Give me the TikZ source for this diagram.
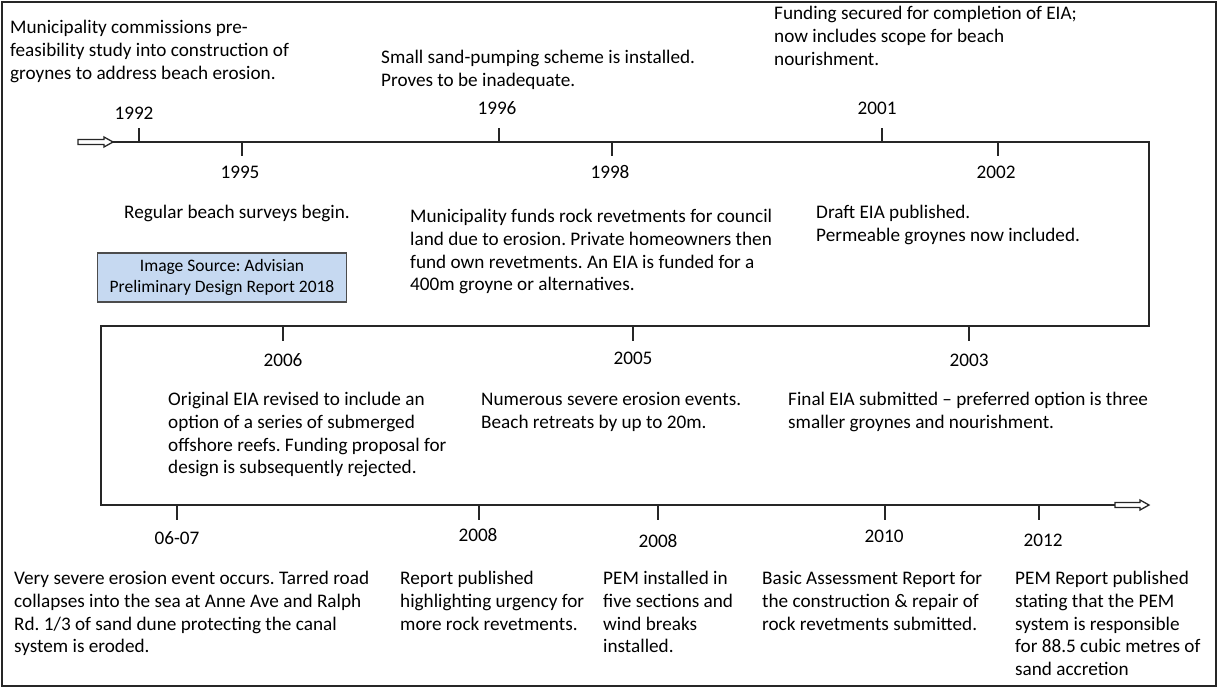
\documentclass[tikz,border=0pt]{standalone}
\usepackage{fontspec}
\setmainfont{Carlito}
\definecolor{srcfill}{RGB}{198,217,241}
\begin{document}
\frenchspacing
\begin{tikzpicture}[x=1pt,y=-1pt,
  txt/.style={anchor=north west, align=left, inner sep=0pt, text=black, font=\fontsize{19.2}{22.8}\selectfont},
  yr/.style={inner sep=0pt, text=black, font=\fontsize{19.2}{22.8}\selectfont},
  tline/.style={line width=1.8pt, draw=black!85},
  tk/.style={line width=1.8pt, draw=black!85},
  hollow/.style={line width=1.3pt, draw=black!85, fill=white},
  srcbox/.style={draw=black!70, line width=1.2pt, fill=srcfill, inner sep=0pt, minimum width=249pt, minimum height=49pt, align=center, font=\fontsize{17.5}{21.5}\selectfont}
]
\useasboundingbox (0,0) rectangle (1220,688);
\draw[line width=1.5pt, draw=black!85] (2,2) rectangle (1216,686);

% timeline corners
\coordinate (a0) at (113,142);
\coordinate (a1) at (1149,142);
\coordinate (b1) at (1149,326);
\coordinate (b0) at (101,326);
\coordinate (c0) at (101,505);
\coordinate (c1) at (1115,505);
\draw[tline] (a0) -- (a1) -- (b1) -- (b0) -- (c0) -- (c1);

% hollow arrows
\draw[hollow] (78,139.5) -- (104,139.5) -- (104,137) -- (113,142) -- (104,147) -- (104,144.5) -- (78,144.5) -- cycle;
\draw[hollow] (1115,502.5) -- (1140,502.5) -- (1140,500) -- (1149,505) -- (1140,510) -- (1140,507.5) -- (1115,507.5) -- cycle;

% ticks row 1
\foreach \n/\x in {1992/139,1996/499,2001/882}{
  \coordinate (t\n) at (\x,142);
  \draw[tk] (t\n) -- ++(0,-14);
}
\foreach \n/\x in {1995/242,1998/612,2002/998}{
  \coordinate (t\n) at (\x,142);
  \draw[tk] (t\n) -- ++(0,14);
}
% ticks row 2
\foreach \n/\x in {2006/283,2005/633,2003/969}{
  \coordinate (t\n) at (\x,326);
  \draw[tk] (t\n) -- ++(0,15);
}
% ticks row 3
\foreach \n/\x in {0607/177,2008a/479,2008b/658,2010/885,2012/1039}{
  \coordinate (t\n) at (\x,505);
  \draw[tk] (t\n) -- ++(0,15);
}

% year labels
\node[yr] (y1992) at (134,113) {1992};
\node[yr] (y1996) at (497,108) {1996};
\node[yr] (y2001) at (877,108) {2001};
\node[yr] (y1995) at (240,172) {1995};
\node[yr] (y1998) at (610,172) {1998};
\node[yr] (y2002) at (996,172) {2002};
\node[yr] (y2006) at (283,360) {2006};
\node[yr] (y2005) at (633,358) {2005};
\node[yr] (y2003) at (969,360) {2003};
\node[yr] (y0607) at (177,538) {06-07};
\node[yr] (y2008a) at (478,535) {2008};
\node[yr] (y2008b) at (658,541) {2008};
\node[yr] (y2010) at (884,536) {2010};
\node[yr] (y2012) at (1043,540) {2012};

% event texts
\node[txt] (e1992) at (10,20) {Municipality commissions pre-\\feasibility study into construction of\\groynes to address beach erosion.};
\node[txt] (e1996) at (381,50) {Small sand-pumping scheme is installed.\\Proves to be inadequate.};
\node[txt] (e2001) at (774,6) {Funding secured for completion of EIA;\\now includes scope for beach\\nourishment.};
\node[txt] (e1995) at (124,205) {Regular beach surveys begin.};
\node[txt] (e1998) at (410,209) {Municipality funds rock revetments for council\\land due to erosion. Private homeowners then\\fund own revetments. An EIA is funded for a\\400m groyne or alternatives.};
\node[txt] (e2002) at (816,205) {Draft EIA published.\\Permeable groynes now included.};
\node[srcbox] (src) at (222,277.5) {Image Source: Advisian\\Preliminary Design Report 2018};
\node[txt] (e2006) at (168,392) {Original EIA revised to include an\\option of a series of submerged\\offshore reefs. Funding proposal for\\design is subsequently rejected.};
\node[txt] (e2005) at (481,392) {Numerous severe erosion events.\\Beach retreats by up to 20m.};
\node[txt] (e2003) at (788,392) {Final EIA submitted -- preferred option is three\\smaller groynes and nourishment.};
\node[txt] (e0607) at (14,571) {Very severe erosion event occurs. Tarred road\\collapses into the sea at Anne Ave and Ralph\\Rd. 1/3 of sand dune protecting the canal\\system is eroded.};
\node[txt] (e2008a) at (400,571) {Report published\\highlighting urgency for\\more rock revetments.};
\node[txt] (e2008b) at (603,571) {PEM installed in\\five sections and\\wind breaks\\installed.};
\node[txt] (e2010) at (762,571) {Basic Assessment Report for\\the construction \& repair of\\rock revetments submitted.};
\node[txt] (e2012) at (1015,571) {PEM Report published\\stating that the PEM\\system is responsible\\for 88.5 cubic metres of\\sand accretion};
\end{tikzpicture}
\end{document}
